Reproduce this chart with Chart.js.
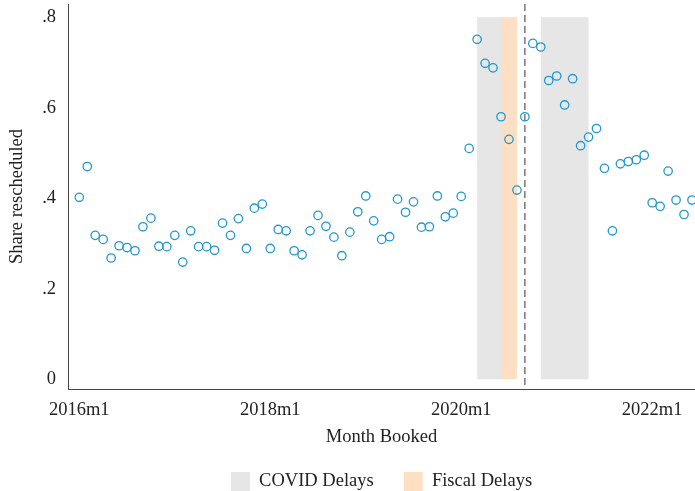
<!DOCTYPE html>
<html>
<head>
<meta charset="utf-8">
<script src="https://cdn.jsdelivr.net/npm/chart.js@4/dist/chart.umd.min.js"></script>
<style>
    html, body { margin: 0; padding: 0; background: #fff; }
    #wrap { width: 695px; height: 491px; }
</style>
</head>
<body>
<div id="wrap"><canvas id="chartShare"></canvas></div>
<script>
// Share rescheduled per month booked, 2016m1 .. 2022m6
const shareRescheduled = [
    0.402, 0.470, 0.318, 0.309, 0.268, 0.295, 0.291, 0.284, 0.337, 0.356, 0.294, 0.293,
    0.318, 0.259, 0.328, 0.293, 0.293, 0.285, 0.345, 0.318, 0.355, 0.289, 0.378, 0.387,
    0.289, 0.331, 0.328, 0.284, 0.275, 0.328, 0.362, 0.338, 0.314, 0.273, 0.325, 0.370,
    0.405, 0.350, 0.309, 0.315, 0.398, 0.369, 0.392, 0.336, 0.337, 0.405, 0.359, 0.367,
    0.404, 0.510, 0.751, 0.698, 0.688, 0.580, 0.530, 0.418, 0.580, 0.742, 0.734, 0.660,
    0.670, 0.606, 0.664, 0.516, 0.535, 0.554, 0.466, 0.328, 0.476, 0.481, 0.485, 0.495,
    0.390, 0.382, 0.460, 0.396, 0.364, 0.396
];

// Month index (0 = 2016m1) ticks
const xTickValues = [0, 24, 48, 72];
const xTickLabels = ['2016m1', '2018m1', '2020m1', '2022m1'];
const yTickValues = [0, 0.2, 0.4, 0.6, 0.8];
const yTickLabels = ['0', '.2', '.4', '.6', '.8'];

// Shaded periods [start, end] in month index
const covidPeriods = [[50, 53], [58, 64]];
const fiscalPeriods = [[53, 55]];
const shadeTop = 0.8;
const cutoffMonth = 56;

const COLOR_POINT = '#2298cd';
const COLOR_COVID = '#e6e6e6';
const COLOR_FISCAL = '#fde0c4';
const FONT = 'Liberation Serif, Times New Roman, serif';
const FONT_SIZE = 18.5;

const shadePlugin = {
    id: 'shade',
    beforeDatasetsDraw(chart) {
        const { ctx, scales: { x, y } } = chart;
        const drawPeriods = (periods, color) => {
            ctx.fillStyle = color;
            periods.forEach(p => {
                const x0 = x.getPixelForValue(p[0]);
                const x1 = x.getPixelForValue(p[1]);
                const y0 = y.getPixelForValue(shadeTop);
                const y1 = y.getPixelForValue(0);
                ctx.fillRect(x0, y0, x1 - x0, y1 - y0);
            });
        };
        ctx.save();
        drawPeriods(covidPeriods, COLOR_COVID);
        drawPeriods(fiscalPeriods, COLOR_FISCAL);

        // linea discontinua
        const xc = x.getPixelForValue(cutoffMonth);
        ctx.strokeStyle = '#555';
        ctx.lineWidth = 1.2;
        ctx.setLineDash([7, 4]);
        ctx.beginPath();
        ctx.moveTo(xc, chart.chartArea.top);
        ctx.lineTo(xc, chart.chartArea.bottom);
        ctx.stroke();
        ctx.restore();
    }
};

const points = shareRescheduled.map((v, i) => ({ x: i, y: v }));

new Chart(document.getElementById('chartShare'), {
    type: 'scatter',
    data: {
        datasets: [{
            label: 'Share rescheduled',
            data: points,
            borderColor: COLOR_POINT,
            backgroundColor: 'rgba(0,0,0,0)',
            borderWidth: 1.3,
            pointRadius: 4.2,
            clip: false
        }]
    },
    options: {
        responsive: true,
        maintainAspectRatio: false,
        animation: false,
        layout: { autoPadding: false, padding: { top: 4, right: 0, left: 0, bottom: -10 } },
        plugins: {
            tooltip: { enabled: false },
            legend: {
                position: 'bottom',
                fullSize: false,
                labels: {
                    color: '#222',
                    font: { family: FONT, size: FONT_SIZE },
                    boxWidth: 19,
                    boxHeight: 19,
                    padding: 30,
                    generateLabels: () => [
                        { text: 'COVID Delays', fillStyle: COLOR_COVID, strokeStyle: COLOR_COVID, lineWidth: 0, fontColor: '#222' },
                        { text: 'Fiscal Delays', fillStyle: COLOR_FISCAL, strokeStyle: COLOR_FISCAL, lineWidth: 0, fontColor: '#222' }
                    ]
                }
            }
        },
        scales: {
            x: {
                type: 'linear',
                min: -1.42,
                max: 77.38,
                afterBuildTicks: axis => { axis.ticks = xTickValues.map(v => ({ value: v })); },
                afterFit: axis => {
                    axis.height = 53;
                    axis.paddingLeft = 0;
                    axis.paddingRight = 0;
                },
                ticks: {
                    color: '#222',
                    font: { family: FONT, size: FONT_SIZE },
                    padding: 10,
                    maxRotation: 0,
                    autoSkip: false,
                    callback: (value) => xTickLabels[xTickValues.indexOf(value)]
                },
                grid: { display: false, drawTicks: false },
                border: { color: '#444', width: 1 },
                title: {
                    display: true,
                    text: 'Month Booked',
                    color: '#222',
                    font: { family: FONT, size: FONT_SIZE },
                    padding: { top: 2, bottom: -6 }
                }
            },
            y: {
                min: -0.0214,
                max: 0.829,
                afterBuildTicks: axis => { axis.ticks = yTickValues.map(v => ({ value: v })); },
                afterFit: axis => {
                    axis.width = 68;
                    axis.paddingTop = 0;
                    axis.paddingBottom = 0;
                },
                ticks: {
                    color: '#222',
                    font: { family: FONT, size: FONT_SIZE },
                    padding: 12,
                    autoSkip: false,
                    callback: (value) => yTickLabels[yTickValues.indexOf(value)]
                },
                grid: { display: false, drawTicks: false },
                border: { color: '#444', width: 1 },
                title: {
                    display: true,
                    text: 'Share rescheduled',
                    color: '#222',
                    font: { family: FONT, size: FONT_SIZE },
                    padding: { top: 6, bottom: 0 }
                }
            }
        }
    },
    plugins: [shadePlugin]
});
</script>
</body>
</html>
